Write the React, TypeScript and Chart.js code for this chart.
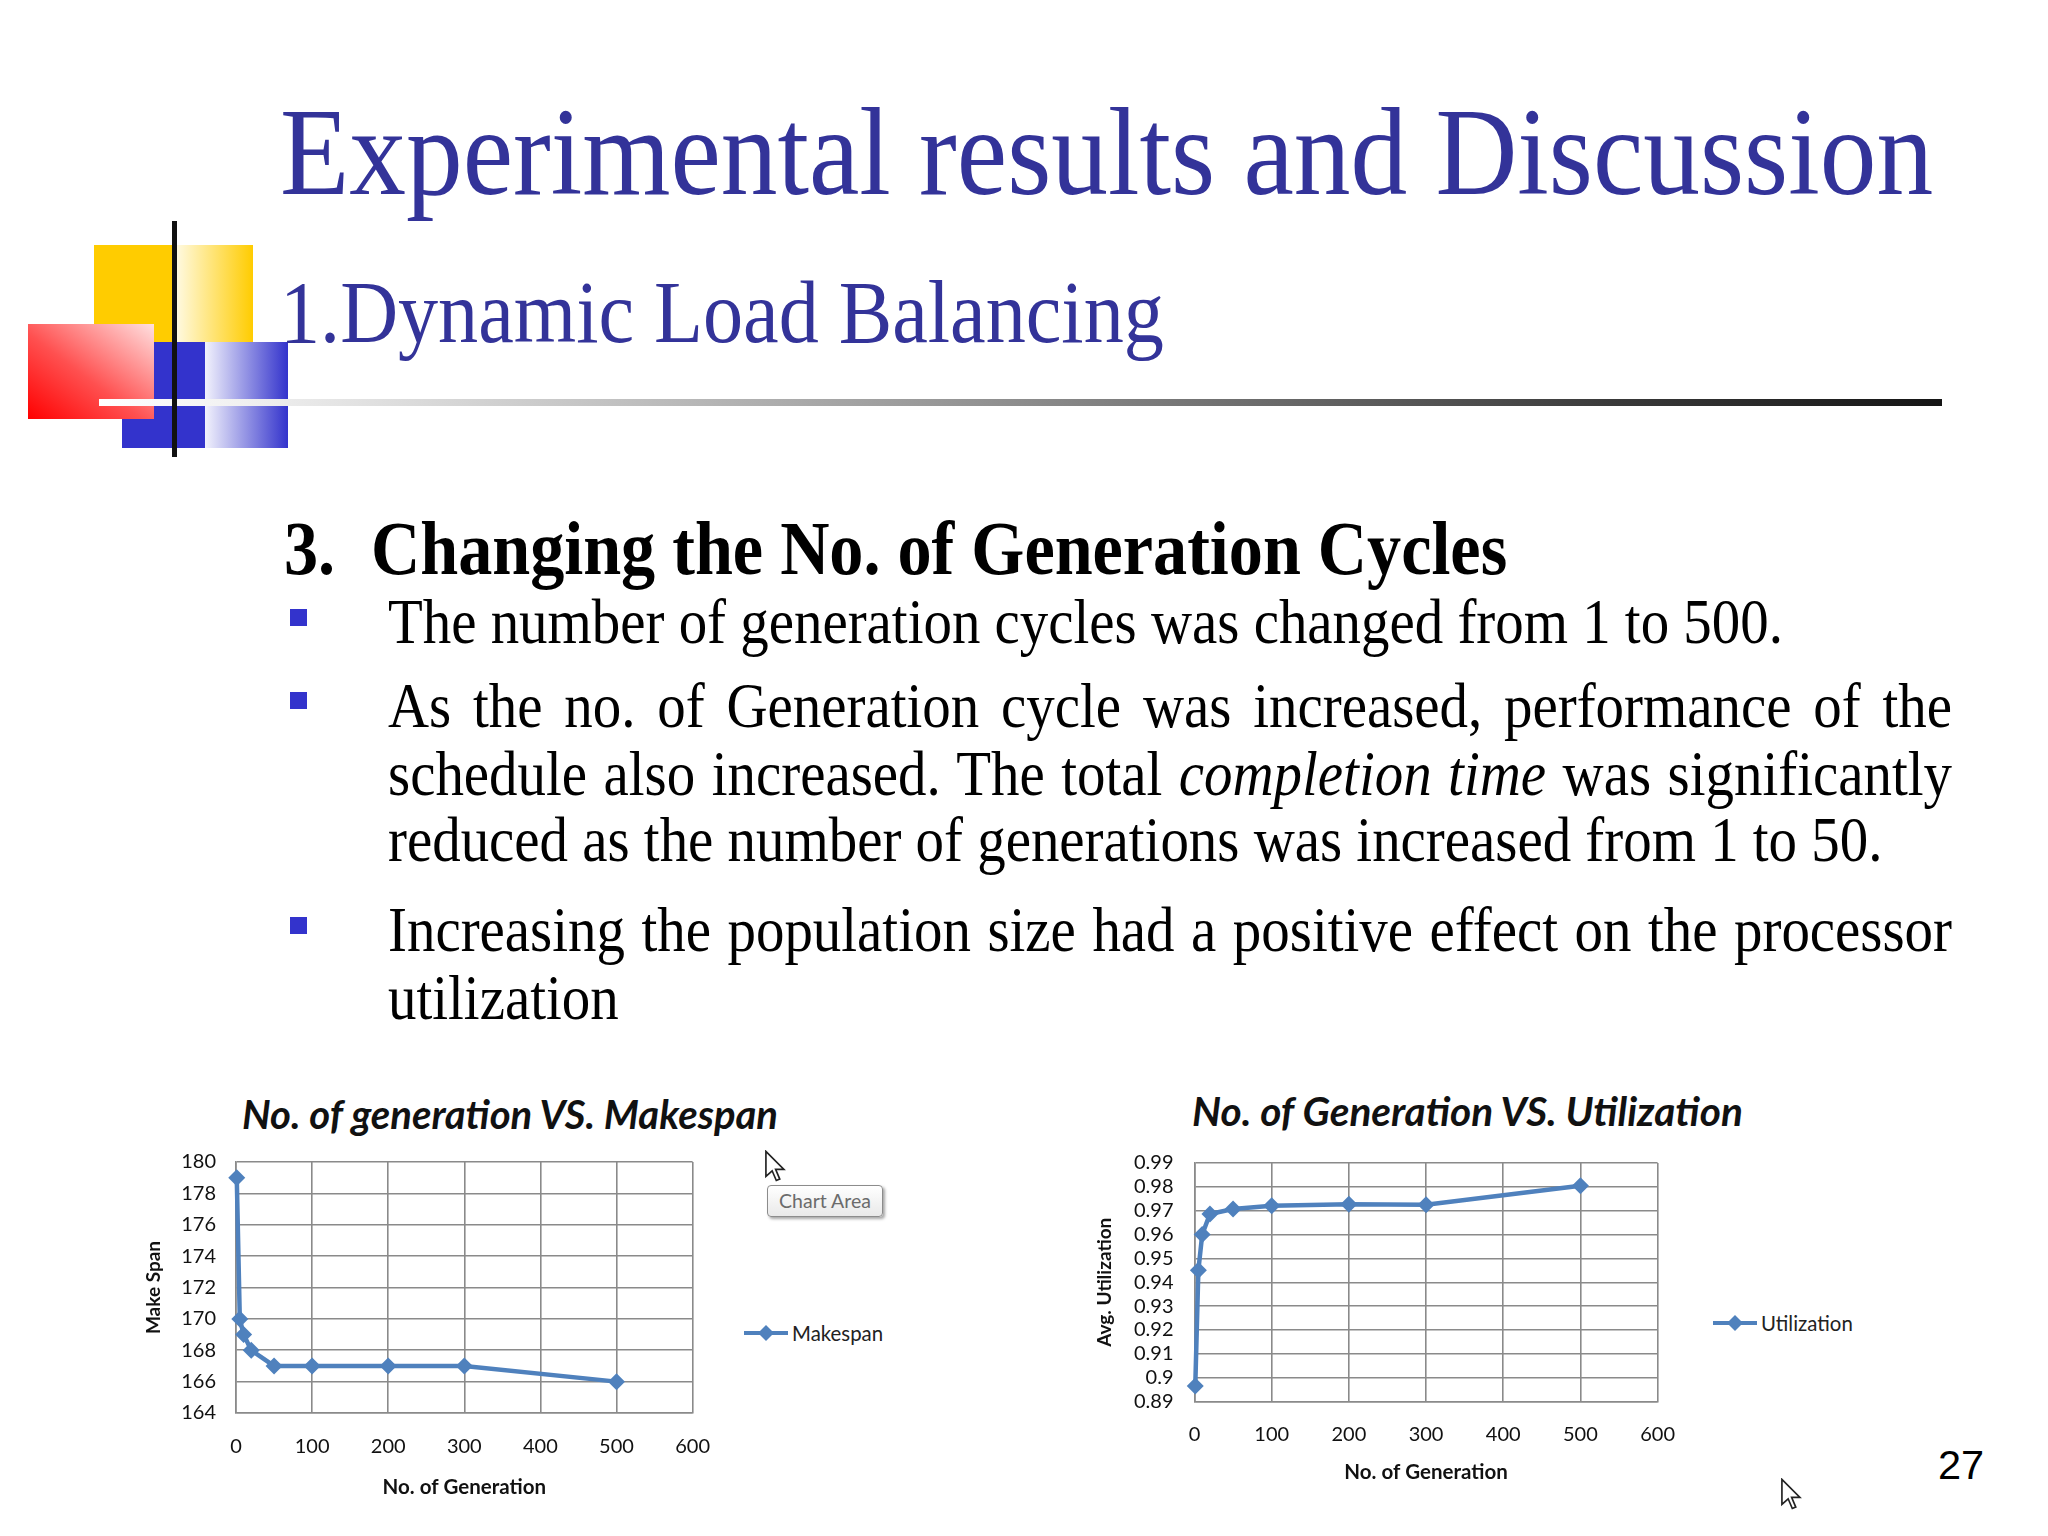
import React, { useEffect, useRef } from "react";
import { Chart, registerables } from "chart.js";

Chart.register(...registerables);

// ---------- data ----------
const generations = [1, 5, 10, 20, 50, 100, 200, 300, 500];
const makespanValues = [179, 170, 169, 168, 167, 167, 167, 167, 166];
const utilizationValues = [0.8965, 0.945, 0.96, 0.9686, 0.9707, 0.9721, 0.9727, 0.9725, 0.9805];
const xTickRange = [0, 600, 100];
const makespanTickRange = [164, 180, 2];
const utilizationTickRange = [0.89, 0.99, 0.01];

const BLUE = "#4F81BD";
const GRID = "#8a8a8a";
const TXT_BLUE = "#333399";
const CHART_FONT = "Lato, 'Open Sans', sans-serif";

type ChartProps = {
  xs: number[];
  ys: number[];
  yRange: number[];
  yTitle: string;
  label: string;
  left: number;
  top: number;
  width: number;
  height: number;
  yAxisW: number;
  xAxisH: number;
  padTop: number;
  padRight: number;
  yLabelPad: number;
  xLabelPad: number;
  yTitlePad: number;
  xTitlePad: number;
  decimals: boolean;
};

function LineChart(p: ChartProps) {
  const ref = useRef<HTMLCanvasElement | null>(null);
  useEffect(() => {
    if (!ref.current) return;
    const tickFont = { family: CHART_FONT, size: 20 };
    const chart = new Chart(ref.current, {
      type: "scatter",
      data: {
        datasets: [
          {
            label: p.label,
            data: p.xs.map((x, i) => ({ x, y: p.ys[i] })),
            showLine: true,
            borderColor: BLUE,
            backgroundColor: BLUE,
            borderWidth: 4.5,
            tension: 0,
            pointStyle: "rectRot",
            pointRadius: 8.5,
            pointBorderWidth: 0,
            pointBackgroundColor: BLUE,
            clip: false,
          } as any,
        ],
      },
      options: {
        animation: false,
        responsive: false,
        devicePixelRatio: 1,
        layout: { padding: { top: p.padTop, right: p.padRight, left: 0, bottom: 0 } },
        plugins: { legend: { display: false }, tooltip: { enabled: false } },
        scales: {
          x: {
            type: "linear",
            min: xTickRange[0],
            max: xTickRange[1],
            ticks: { stepSize: xTickRange[2], padding: p.xLabelPad, font: tickFont, color: "#111", autoSkip: false, maxRotation: 0 },
            grid: { color: GRID, lineWidth: 1.6, drawTicks: false },
            border: { display: true, color: GRID, width: 1.6 },
            title: {
              display: true,
              text: "No. of Generation",
              font: { family: CHART_FONT, size: 20.5, weight: "bold" },
              color: "#111",
              padding: { top: 0, bottom: p.xTitlePad },
            },
            afterFit: (s: any) => {
              s.height = p.xAxisH;
            },
          },
          y: {
            type: "linear",
            min: p.yRange[0],
            max: p.yRange[1],
            ticks: {
              stepSize: p.yRange[2],
              padding: p.yLabelPad,
              font: tickFont,
              color: "#111",
              autoSkip: false,
              callback: (v: any) => (p.decimals ? String(parseFloat(Number(v).toFixed(2))) : String(v)),
            },
            grid: { color: GRID, lineWidth: 1.6, drawTicks: false },
            border: { display: true, color: GRID, width: 1.6 },
            title: {
              display: true,
              text: p.yTitle,
              font: { family: CHART_FONT, size: 19, weight: "bold" },
              color: "#111",
              padding: { top: p.yTitlePad, bottom: 0 },
            },
            afterFit: (s: any) => {
              s.width = p.yAxisW;
            },
          },
        },
      } as any,
    });
    return () => chart.destroy();
  }, []);
  return (
    <canvas
      ref={ref}
      width={p.width}
      height={p.height}
      style={{ position: "absolute", left: p.left, top: p.top, width: p.width, height: p.height }}
    />
  );
}

function Legend({ left, top, text }: { left: number; top: number; text: string }) {
  return (
    <div style={{ position: "absolute", left, top: top - 14, height: 28, display: "flex", alignItems: "center" }}>
      <svg width={46} height={28} style={{ display: "block" }}>
        <line x1={0} y1={14} x2={44} y2={14} stroke={BLUE} strokeWidth={4} />
        <polygon points="22,6 30,14 22,22 14,14" fill={BLUE} />
      </svg>
      <span style={{ fontFamily: CHART_FONT, fontSize: 20.4, color: "#222", marginLeft: 2, whiteSpace: "nowrap" }}>{text}</span>
    </div>
  );
}

function Cursor({ left, top }: { left: number; top: number }) {
  return (
    <svg width={26} height={36} style={{ position: "absolute", left, top }} viewBox="0 0 18 26">
      <path d="M1,1 L1,19 L5.5,15 L8.5,22 L11,21 L8,14 L14,14 Z" fill="#fff" stroke="#222" strokeWidth={1.2} />
    </svg>
  );
}

type LineProps = {
  x: number;
  baseline: number;
  size: number;
  sx: number;
  width?: number;
  justify?: boolean;
  bold?: boolean;
  color?: string;
  children: React.ReactNode;
};

function SerifLine({ x, baseline, size, sx, width, justify, bold, color, children }: LineProps) {
  const style: React.CSSProperties = {
    position: "absolute",
    left: x,
    top: baseline - 0.9375 * size,
    fontFamily: "'Liberation Serif', 'Times New Roman', serif",
    fontSize: size,
    lineHeight: `${1.2 * size}px`,
    fontWeight: bold ? "bold" : "normal",
    color: color || "#000",
    whiteSpace: "nowrap",
    transform: `scaleX(${sx})`,
    transformOrigin: "0 0",
  };
  if (width) {
    style.width = width / sx;
    if (justify) {
      style.textAlign = "justify";
      (style as any).textAlignLast = "justify";
    }
  }
  return <div style={style}>{children}</div>;
}

function Bullet({ x, y }: { x: number; y: number }) {
  return <div style={{ position: "absolute", left: x, top: y, width: 17, height: 17, background: "#3333CC" }} />;
}

function ChartTitle({ left, top, text, size }: { left: number; top: number; text: string; size: number }) {
  return (
    <div
      style={{
        position: "absolute",
        left,
        top,
        fontFamily: CHART_FONT,
        fontSize: size,
        fontWeight: "bold",
        fontStyle: "italic",
        color: "#111",
        whiteSpace: "nowrap",
        lineHeight: "48px",
      }}
    >
      {text}
    </div>
  );
}

export default function App() {
  const BODY = 63;
  const BSX = 0.903;
  const TX = 388;
  const TW = 1564;
  return (
    <div style={{ position: "absolute", left: 0, top: 0, width: 2048, height: 1536, background: "#fff", overflow: "hidden" }}>
      {/* decorative blocks */}
      <div style={{ position: "absolute", left: 94, top: 245, width: 80, height: 100, background: "#FFCC00" }} />
      <div style={{ position: "absolute", left: 174, top: 245, width: 79, height: 100, background: "linear-gradient(to right, #fffbe8, #FFCC00)" }} />
      <div style={{ position: "absolute", left: 122, top: 342, width: 83, height: 106, background: "#3333CC" }} />
      <div style={{ position: "absolute", left: 205, top: 342, width: 83, height: 106, background: "linear-gradient(to right, #f2f2fc, #3333CC)" }} />
      <div style={{ position: "absolute", left: 28, top: 324, width: 126, height: 95, background: "linear-gradient(to top right, #ff0000 0%, #ff5050 45%, #ffe0e0 100%)" }} />
      <div style={{ position: "absolute", left: 99, top: 398.5, width: 1843, height: 7, background: "linear-gradient(to right, #ffffff 0%, #f0f0f0 8%, #c8c8c8 25%, #999 45%, #666 65%, #3a3a3a 82%, #151515 100%)" }} />
      <div style={{ position: "absolute", left: 172, top: 221, width: 5, height: 236, background: "#111" }} />

      {/* titles */}
      <SerifLine x={280} baseline={194} size={125} sx={0.907} color={TXT_BLUE}>Experimental results and Discussion</SerifLine>
      <SerifLine x={280} baseline={342} size={88} sx={0.911} color={TXT_BLUE}>1.Dynamic Load Balancing</SerifLine>

      {/* section heading */}
      <SerifLine x={284} baseline={574.5} size={76} sx={0.897} bold>3.</SerifLine>
      <SerifLine x={371} baseline={574.5} size={76} sx={0.897} bold>Changing the No. of Generation Cycles</SerifLine>

      {/* bullets */}
      <Bullet x={290} y={609} />
      <Bullet x={290} y={692} />
      <Bullet x={290} y={917} />

      <SerifLine x={TX} baseline={644} size={BODY} sx={BSX}>The number of generation cycles was changed from 1 to 500.</SerifLine>
      <SerifLine x={TX} baseline={728} size={BODY} sx={BSX} width={TW} justify>As the no. of Generation cycle was increased, performance of the</SerifLine>
      <SerifLine x={TX} baseline={796} size={BODY} sx={BSX} width={TW} justify>
        schedule also increased. The total <i>completion time</i> was significantly
      </SerifLine>
      <SerifLine x={TX} baseline={862} size={BODY} sx={BSX}>reduced as the number of generations was increased from 1 to 50.</SerifLine>
      <SerifLine x={TX} baseline={952} size={BODY} sx={BSX} width={TW} justify>Increasing the population size had a positive effect on the processor</SerifLine>
      <SerifLine x={TX} baseline={1020} size={BODY} sx={BSX}>utilization</SerifLine>

      {/* chart titles */}
      <ChartTitle left={242} top={1090} size={40} text="No. of generation VS. Makespan" />
      <ChartTitle left={1192} top={1087} size={40.5} text="No. of Generation VS. Utilization" />

      <LineChart
        xs={generations}
        ys={makespanValues}
        yRange={makespanTickRange}
        yTitle="Make Span"
        label="Makespan"
        left={130}
        top={1130}
        width={602}
        height={400}
        yAxisW={106}
        xAxisH={117}
        padTop={31}
        padRight={36}
        yLabelPad={20}
        xLabelPad={22}
        yTitlePad={12}
        xTitlePad={30}
        decimals={false}
      />
      <LineChart
        xs={generations}
        ys={utilizationValues}
        yRange={utilizationTickRange}
        yTitle="Avg. Utilization"
        label="Utilization"
        left={1090}
        top={1130}
        width={606}
        height={390}
        yAxisW={104.5}
        xAxisH={118.4}
        padTop={29}
        padRight={36}
        yLabelPad={21}
        xLabelPad={21}
        yTitlePad={3}
        xTitlePad={35}
        decimals={true}
      />

      <Legend left={744} top={1333} text="Makespan" />
      <Legend left={1713} top={1323} text="Utilization" />

      {/* tooltip and cursors */}
      <div
        style={{
          position: "absolute",
          left: 767,
          top: 1185,
          width: 114,
          height: 30,
          border: "1px solid #8c8c8c",
          borderRadius: 4,
          background: "linear-gradient(#ffffff, #e9e9e9)",
          boxShadow: "2px 2px 3px rgba(0,0,0,0.35)",
          fontFamily: CHART_FONT,
          fontSize: 19.5,
          color: "#6b6b6b",
          textAlign: "center",
          lineHeight: "30px",
        }}
      >
        Chart Area
      </div>
      <Cursor left={764} top={1150} />
      <Cursor left={1780} top={1478} />

      <div style={{ position: "absolute", left: 1938, top: 1479 - 0.9465 * 41.5, fontFamily: "'Liberation Sans', Arial, sans-serif", fontSize: 41.5, lineHeight: `${1.2 * 41.5}px`, color: "#000" }}>
        27
      </div>
    </div>
  );
}
